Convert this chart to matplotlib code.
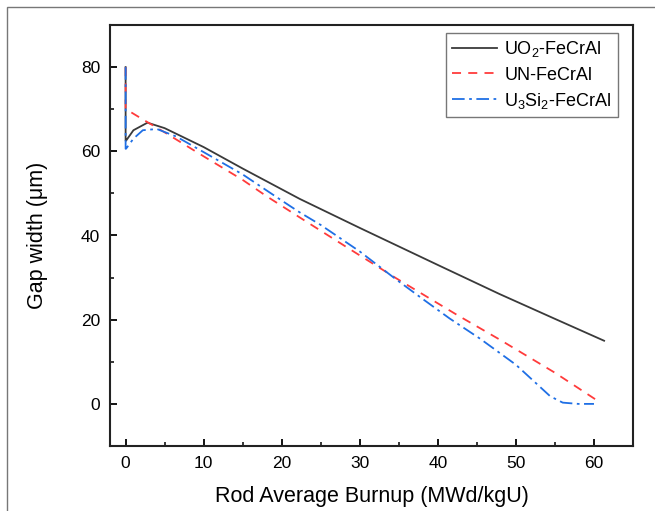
import matplotlib
matplotlib.use("Agg")
import matplotlib.pyplot as plt
from matplotlib.patches import Rectangle
from matplotlib.ticker import MultipleLocator

plt.rcParams['font.family'] = ['Liberation Sans', 'DejaVu Sans']
plt.rcParams['mathtext.fontset'] = 'custom'
plt.rcParams['mathtext.rm'] = 'Liberation Sans'

# data
uo2_x = [0, 0, 0.05, 1, 2.8, 5, 10, 15, 22.3, 30, 40, 47.9, 55, 61.3]
uo2_y = [80, 62.5, 62.5, 65, 66.8, 65.5, 61, 55.9, 48.7, 41.8, 33, 26.1, 20.2, 15]

un_x = [0, 0, 0.05, 2, 5, 10, 15, 18, 22.3, 28, 34.7, 42.4, 47.9, 55, 60.5]
un_y = [80, 70, 70, 67.8, 64.5, 58.8, 53.2, 49.4, 44.3, 37.6, 29.8, 21.2, 15.3, 7.4, 0.7]

u3si2_x = [0, 0, 0.05, 1, 2.2, 4, 6.5, 10, 15, 20, 22.3, 25, 30, 34.7, 38, 41.5,
           45.4, 50, 54.4, 56, 58, 60]
u3si2_y = [80, 60.6, 60.6, 63, 65, 65.3, 63.5, 59.8, 54.5, 48.3, 45.5, 42.5, 36.2,
           29.5, 25, 20.3, 15.5, 9.3, 1.8, 0.3, 0, 0]

fig = plt.figure(figsize=(6.55, 5.11), dpi=100)
ax = fig.add_axes([110 / 655, 1 - 446 / 511, 523 / 655, 421 / 511])

ax.plot(uo2_x, uo2_y, color='#3a3a3a', lw=1.3, label=r'UO$_2$-FeCrAl')
ax.plot(un_x, un_y, color='#ff3b3b', lw=1.3, ls=(0, (5, 4)), label='UN-FeCrAl')
ax.plot(u3si2_x, u3si2_y, color='#1f6fe5', lw=1.3, ls=(0, (7, 2.5, 1.5, 2.5)),
        label=r'U$_3$Si$_2$-FeCrAl')

ax.set_xlim(-2, 65)
ax.set_ylim(-10, 90)
ax.xaxis.set_major_locator(MultipleLocator(10))
ax.xaxis.set_minor_locator(MultipleLocator(5))
ax.yaxis.set_major_locator(MultipleLocator(20))
ax.yaxis.set_minor_locator(MultipleLocator(10))
ax.tick_params(which='major', direction='in', length=5, width=1.3, labelsize=12.5, pad=7)
ax.tick_params(which='minor', direction='in', length=3, width=1.1)
for s in ax.spines.values():
    s.set_linewidth(1.5)
    s.set_color('#222222')

ax.set_xlabel('Rod Average Burnup (MWd/kgU)', fontsize=15.5, labelpad=11)
ax.set_ylabel('Gap width (μm)', fontsize=15.5, labelpad=24)

leg = ax.legend(loc='upper right', bbox_to_anchor=(0.971, 0.981), borderaxespad=0,
                fontsize=13, frameon=True, fancybox=False, handlelength=2.5,
                borderpad=0.35, labelspacing=0.4, handletextpad=0.4)
leg.get_frame().set_edgecolor('#555555')
leg.get_frame().set_linewidth(1.0)

fig.patches.append(Rectangle((7 / 655, -0.1), 1.2, 1 - 7 / 511 + 0.1,
                             transform=fig.transFigure, fill=False,
                             edgecolor='#777777', lw=1.0))

fig.savefig('out.png', dpi=100)
